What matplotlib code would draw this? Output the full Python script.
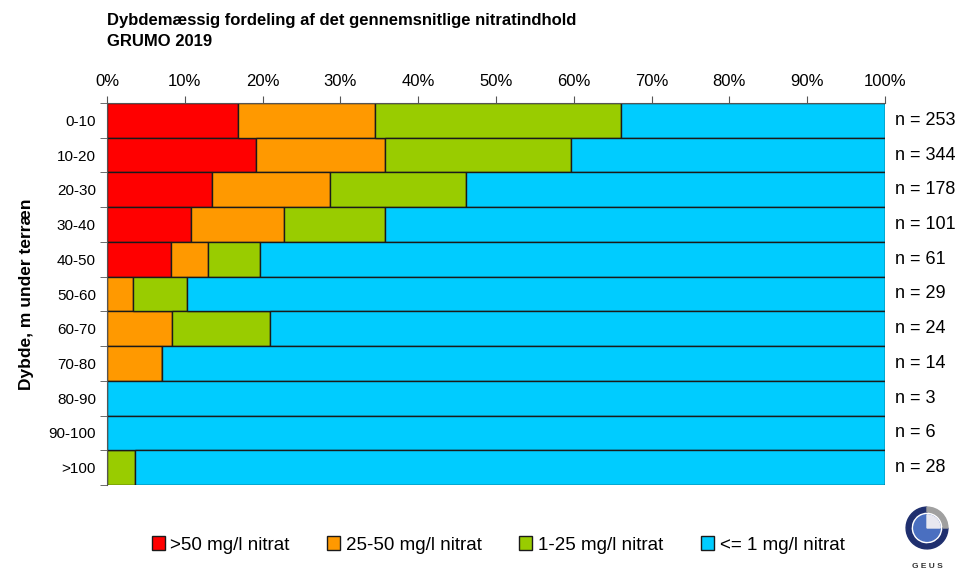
import matplotlib.pyplot as plt
from matplotlib.patches import Wedge, Circle
import numpy as np

plt.rcParams['font.family'] = ['Liberation Sans', 'DejaVu Sans']

# --- DATA ---
depths = ["0-10", "10-20", "20-30", "30-40", "40-50", "50-60",
          "60-70", "70-80", "80-90", "90-100", ">100"]
n_counts = [253, 344, 178, 101, 61, 29, 24, 14, 3, 6, 28]

over_50 = [16.8, 19.2, 13.5, 10.8, 8.2, 0, 0, 0, 0, 0, 0]
from_25_50 = [17.6, 16.5, 15.2, 12.0, 4.8, 3.3, 8.3, 7.1, 0, 0, 0]
from_1_25 = [31.7, 23.9, 17.4, 12.9, 6.7, 7.0, 12.6, 0, 0, 0, 3.6]
under_1 = [33.9, 40.4, 53.9, 64.3, 80.3, 89.7, 79.1, 92.9, 100, 100, 96.4]

series = [over_50, from_25_50, from_1_25, under_1]
labels = [">50 mg/l nitrat", "25-50 mg/l nitrat", "1-25 mg/l nitrat", "<= 1 mg/l nitrat"]
colors = ["#ff0000", "#ff9900", "#99cc00", "#00ccff"]

fig = plt.figure(figsize=(9.65, 5.72), dpi=100)
ax = fig.add_axes([107 / 965, 1 - 485 / 572, 778 / 965, 382 / 572])

y = np.arange(len(depths))
left = np.zeros(len(depths))
handles = []
for vals, lab, col in zip(series, labels, colors):
    vals = np.array(vals, dtype=float)
    b = ax.barh(y, vals, left=left, height=1.0, color=col,
                edgecolor="#1a1a1a", linewidth=1.0, label=lab)
    handles.append(b)
    left += vals

ax.set_xlim(0, 100)
ax.set_ylim(len(depths) - 0.5, -0.5)

# x axis on top
ax.xaxis.tick_top()
ax.set_xticks(np.arange(0, 101, 10))
ax.set_xticklabels([f"{v}%" for v in range(0, 101, 10)], fontsize=12)
ax.tick_params(axis="x", direction="out", length=5, pad=5, color="#555555")

# y ticks: labels centred, tick marks at row boundaries
ax.set_yticks(y)
ax.set_yticklabels(depths, fontsize=11)
ax.tick_params(axis="y", which="major", length=0, pad=8)
ax.set_yticks(np.arange(-0.5, len(depths), 1), minor=True)
ax.tick_params(axis="y", which="minor", length=5, direction="out", color="#555555")

for s in ["right", "bottom"]:
    ax.spines[s].set_visible(False)
ax.spines["left"].set_color("#555555")
ax.spines["top"].set_color("#555555")

for yi, n in zip(y, n_counts):
    ax.text(1.013, yi, f"n = {n}", transform=ax.get_yaxis_transform(),
            va="center", ha="left", fontsize=13)

ax.set_ylabel("Dybde, m under terræn", fontsize=12.5, fontweight="bold", labelpad=10)

fig.text(107 / 965, 1 - 20 / 572, "Dybdemæssig fordeling af det gennemsnitlige nitratindhold",
         fontsize=12, fontweight="bold", va="center", ha="left")
fig.text(107 / 965, 1 - 42 / 572, "GRUMO 2019",
         fontsize=12, fontweight="bold", va="center", ha="left")

fig.legend(handles=handles, labels=labels, loc="center", ncol=4,
           bbox_to_anchor=(498 / 965, 1 - 545 / 572), frameon=False,
           fontsize=13.5, handlelength=0.7, handleheight=0.7,
           handletextpad=0.3, columnspacing=2.0)

# small GEUS logo
lax = fig.add_axes([905 / 965, 1 - 550 / 572, 44 / 965, 44 / 572])
lax.set_xlim(-1, 1)
lax.set_ylim(-1, 1)
lax.set_aspect("equal")
lax.axis("off")
lax.add_patch(Wedge((0, 0), 0.95, 90, 360, width=0.22, color="#1f2f6e"))
lax.add_patch(Wedge((0, 0), 0.95, 0, 90, width=0.22, color="#a0a0a0"))
lax.add_patch(Circle((0, 0), 0.6, color="#4a6fc0"))
lax.add_patch(Wedge((0, 0), 0.6, 0, 90, color="#e8e8f0"))
fig.text(927 / 965, 1 - 566 / 572, "G E U S", fontsize=6, fontweight="bold",
         ha="center", va="center", color="#333333")

fig.savefig("out.png", dpi=100)
